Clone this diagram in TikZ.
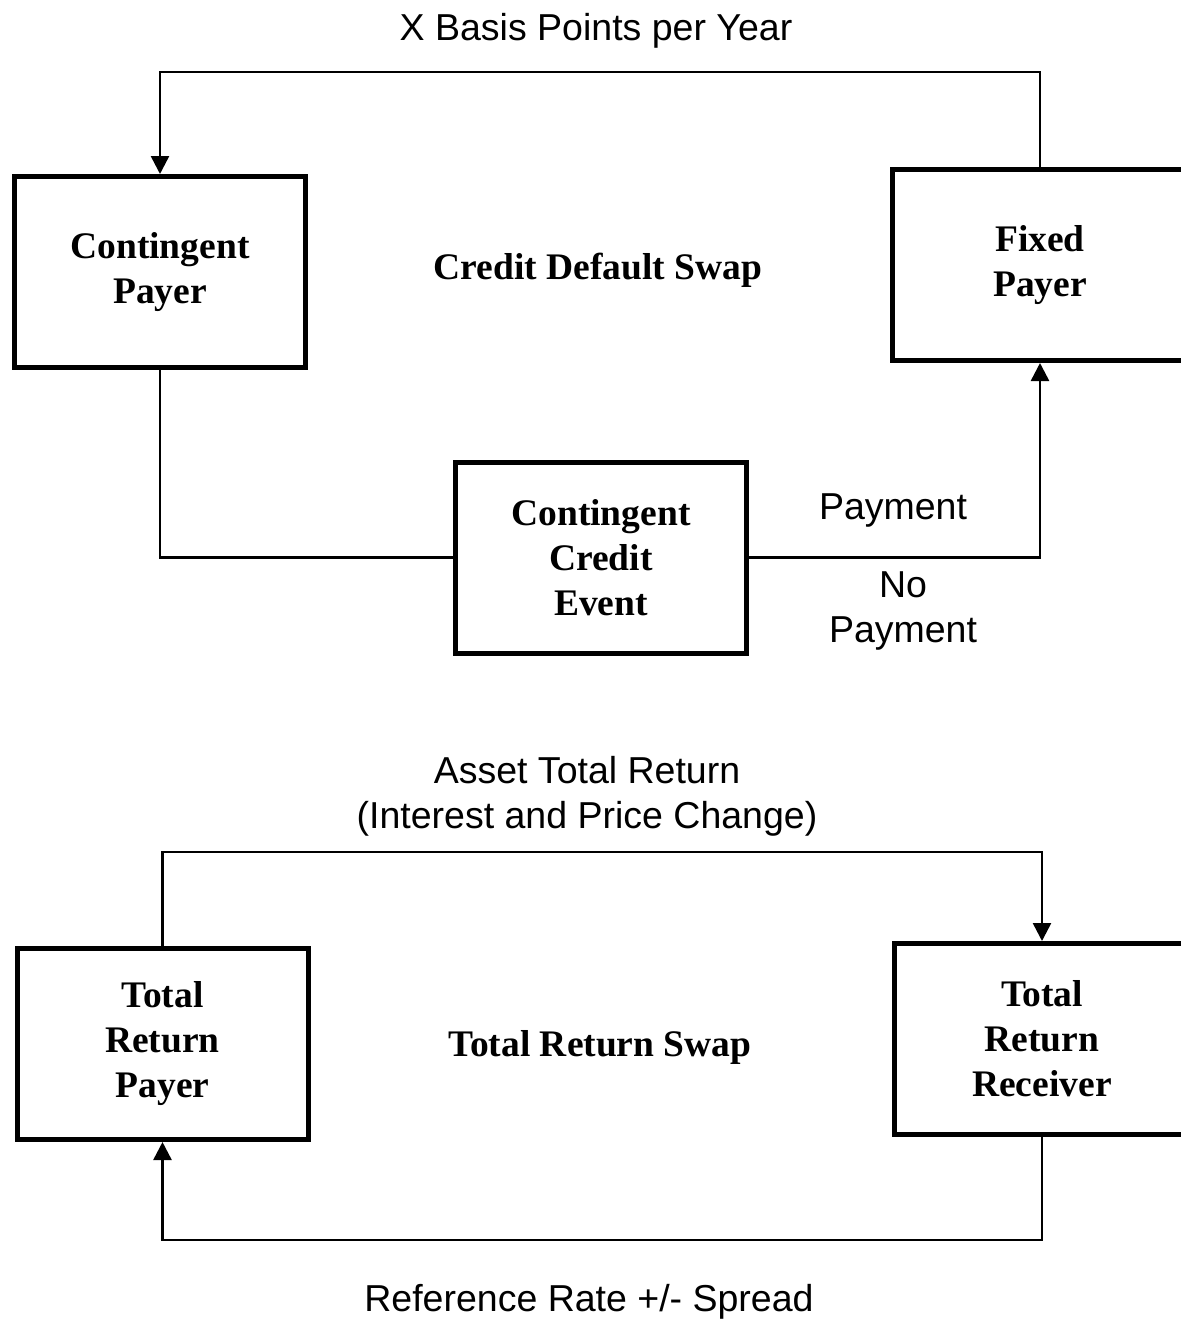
\documentclass[tikz,border=0pt]{standalone}
\usepackage{fontspec}
\setmainfont{Liberation Serif}
\setsansfont{Liberation Sans}
\usetikzlibrary{arrows.meta}
\begin{document}
\begin{tikzpicture}[x=1pt,y=-1pt,
  party/.style={draw, line width=5pt, minimum width=291pt, minimum height=191pt,
    align=center, inner sep=0pt, font=\fontsize{37.5}{45}\selectfont\bfseries},
  flow/.style={line width=2.5pt},
  arr/.style={flow, -{Triangle[width=18pt,length=18pt]}},
  lbl/.style={font=\fontsize{37.5}{45}\selectfont\sffamily, align=center, inner sep=0pt},
  ttl/.style={font=\fontsize{37.5}{45}\selectfont\bfseries, inner sep=0pt}]
\useasboundingbox (0,0) rectangle (1181,1323);
\fill[white] (0,0) rectangle (1181,1323);
\clip (0,0) rectangle (1181,1323);
% boxes
\node[party] (cp) at (160,272) {Contingent\\Payer};
\node[party, minimum width=295pt] (fp) at (1040,265) {Fixed\\Payer};
\node[party] (cce) at (601,557.5) {Contingent\\Credit\\Event};
\node[party] (trp) at (162.5,1044) {Total\\Return\\Payer};
\node[party, minimum width=295pt] (trr) at (1042,1039) {Total\\Return\\Receiver};
% helper coordinates
\coordinate (topy) at (0,72);
\coordinate (midy) at (0,852);
\coordinate (boty) at (0,1240);
% connectors
\draw[arr] (fp.north) -- (fp.north |- topy) -- (cp.north |- topy) -- (cp.north);
\draw[flow] (cp.south) -- (cp.south |- cce.west) -- (cce.west);
\draw[arr] (cce.east) -- (fp.south |- cce.east) -- (fp.south);
\draw[arr] (trp.north) -- (trp.north |- midy) -- (trr.north |- midy) -- (trr.north);
\draw[arr] (trr.south) -- (trr.south |- boty) -- (trp.south |- boty) -- (trp.south);
% labels
\node[lbl, anchor=base] (xbp) at (596,40) {X Basis Points per Year};
\node[ttl, anchor=base] (cds) at (598,279) {Credit Default Swap};
\node[lbl, anchor=base] (pay) at (893,519) {Payment};
\node[lbl, anchor=base] (nopay) at (903,642) {No\\Payment};
\node[lbl, anchor=base] (atr) at (587,828) {Asset Total Return\\(Interest and Price Change)};
\node[ttl, anchor=base] (trs) at (600,1056) {Total Return Swap};
\node[lbl, anchor=base] (rr) at (589,1311) {Reference Rate +/- Spread};
\end{tikzpicture}
\end{document}
